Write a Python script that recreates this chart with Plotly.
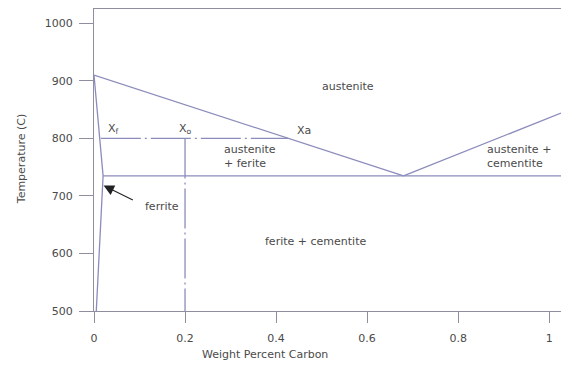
import plotly.graph_objects as go

# ---- data ----
upper_x = [0.0, 0.68]          # austenite upper boundary (A3)
upper_y = [910, 735]
right_x = [0.68, 1.026]        # Acm line
right_y = [735, 844]
eut_x = [0.02, 1.026]          # eutectoid horizontal
eut_y = [735, 735]
ferr_x = [0.0, 0.02, 0.005]    # ferrite boundary
ferr_y = [910, 735, 500]
tie_x = [0.015, 0.427]         # tie line at 800
tie_y = [800, 800]
x0_x = [0.2, 0.2]              # composition X0
x0_y = [800, 500]

x_ticks = [0, 0.2, 0.4, 0.6, 0.8, 1]
x_tick_text = ["0", "0.2", "0.4", "0.6", "0.8", "1"]
y_ticks = [500, 600, 700, 800, 900, 1000]

LINE = "#8c8cbc"
AXIS = "#8e8e9e"
TXT = "#4a4a4a"
FONT = "DejaVu Sans"

fig = go.Figure()
solid = dict(color=LINE, width=1.3)
for xs, ys in [(upper_x, upper_y), (right_x, right_y), (eut_x, eut_y), (ferr_x, ferr_y)]:
    fig.add_trace(go.Scatter(x=xs, y=ys, mode="lines", line=solid, hoverinfo="skip"))
for xs, ys in [(tie_x, tie_y), (x0_x, x0_y)]:
    fig.add_trace(go.Scatter(x=xs, y=ys, mode="lines",
                             line=dict(color=LINE, width=1.3, dash="40px,4px,2px,4px"),
                             hoverinfo="skip"))

labels = [
    (0.042, 816, "X<sub>f</sub>", "center"),
    (0.202, 816, "X<sub>o</sub>", "center"),
    (0.462, 813, "Xa", "center"),
    (0.558, 891, "austenite", "center"),
    (0.281, 768, "austenite<br>+ ferite", "left"),
    (0.858, 768, "austenite +<br>cementite", "left"),
    (0.486, 620, "ferite + cementite", "center"),
]
for x, y, t, al in labels:
    fig.add_annotation(x=x, y=y, text=t, showarrow=False, align="left",
                       xanchor="left" if al == "left" else "center",
                       font=dict(family=FONT, size=11, color=TXT))

# ferrite label with arrow
fig.add_annotation(x=0.15, y=682, text="ferrite", showarrow=False,
                   font=dict(family=FONT, size=11, color=TXT))
fig.add_annotation(x=0.021, y=718, ax=0.093, ay=690, axref="x", ayref="y",
                   text=" ", showarrow=True, arrowhead=2, arrowsize=1.9,
                   arrowwidth=1.1, arrowcolor="#222222")

# axis titles
fig.add_annotation(x=0.376, xref="x", y=0, yref="paper", yshift=-43, yanchor="middle",
                   text="Weight Percent Carbon", showarrow=False,
                   font=dict(family=FONT, size=11, color=TXT))
fig.add_annotation(x=0, xref="paper", xshift=-81, y=763, yref="y", textangle=-90,
                   text="Temperature (C)", showarrow=False,
                   font=dict(family=FONT, size=11, color=TXT))

fig.update_layout(
    width=563, height=370,
    margin=dict(l=94, r=2, t=9, b=59),
    paper_bgcolor="white", plot_bgcolor="white",
    showlegend=False,
    font=dict(family=FONT, size=11, color=TXT),
    xaxis=dict(range=[0, 1.026], tickvals=x_ticks, ticktext=x_tick_text,
               showgrid=False, zeroline=False, showline=True, linecolor=AXIS,
               linewidth=1.3, mirror=True, ticks="outside", ticklen=11,
               tickcolor=AXIS, tickwidth=1.2, ticklabelstandoff=6),
    yaxis=dict(range=[500, 1025], tickvals=y_ticks,
               showgrid=False, zeroline=False, showline=True, linecolor=AXIS,
               linewidth=1.3, ticks="outside", ticklen=14,
               tickcolor=AXIS, tickwidth=1.2, ticklabelstandoff=4),
)

fig.write_html("out.html", config={"displayModeBar": False},
               post_script="document.body.style.margin='0px';document.body.style.overflow='hidden';")
